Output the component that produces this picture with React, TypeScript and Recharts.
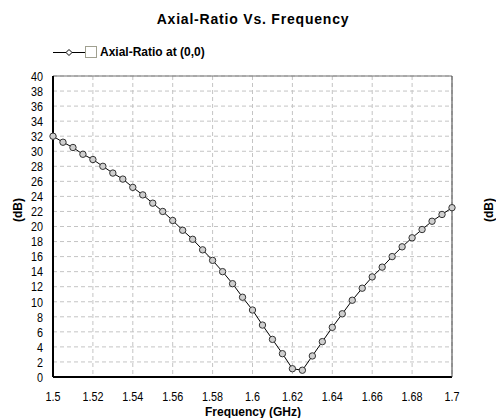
import { LineChart, Line, XAxis, YAxis, CartesianGrid, ReferenceLine } from "recharts"

const freq = [
  1.5, 1.505, 1.51, 1.515, 1.52, 1.525, 1.53, 1.535, 1.54, 1.545,
  1.55, 1.555, 1.56, 1.565, 1.57, 1.575, 1.58, 1.585, 1.59, 1.595,
  1.6, 1.605, 1.61, 1.615, 1.62, 1.625, 1.63, 1.635, 1.64, 1.645,
  1.65, 1.655, 1.66, 1.665, 1.67, 1.675, 1.68, 1.685, 1.69, 1.695, 1.7,
]

const axialRatio = [
  32.0, 31.2, 30.5, 29.6, 28.9, 28.0, 27.1, 26.3, 25.2, 24.2,
  23.1, 22.0, 20.8, 19.5, 18.3, 16.9, 15.5, 14.0, 12.4, 10.6,
  8.9, 6.9, 5.0, 3.1, 1.1, 0.9, 2.8, 4.7, 6.6, 8.4,
  10.2, 11.8, 13.3, 14.6, 16.0, 17.3, 18.5, 19.6, 20.7, 21.6, 22.5,
]

const xTicks = [1.5, 1.52, 1.54, 1.56, 1.58, 1.6, 1.62, 1.64, 1.66, 1.68, 1.7]
const yTicks = [0, 2, 4, 6, 8, 10, 12, 14, 16, 18, 20, 22, 24, 26, 28, 30, 32, 34, 36, 38, 40]

const data = freq.map((f, i) => ({ f, ar: axialRatio[i] }))

const sans = "'Liberation Sans', Arial, sans-serif"

// narrow-looking tick text (no condensed font installed, so squeeze it)
function NarrowTick(props: any) {
  const { x, y, payload, anchor, dy } = props
  return (
    <text
      transform={`translate(${x},${y}) scale(0.8,1)`}
      textAnchor={anchor}
      dy={dy}
      fontSize={13.5}
      fontFamily={sans}
      fill="#000"
    >
      {payload.value}
    </text>
  )
}

export default function App() {
  return (
    <div style={{ position: "absolute", left: 0, top: 0, width: 496, height: 418, background: "#fff" }}>
      <LineChart width={496} height={418} data={data} margin={{ top: 76, right: 4, left: 13, bottom: 11 }}>
        <CartesianGrid yAxisId="l" stroke="#c4c4c4" strokeDasharray="4 3" />
        <XAxis
          dataKey="f"
          type="number"
          domain={[1.5, 1.7]}
          ticks={xTicks}
          interval={0}
          height={30}
          tickLine={false}
          tickSize={6}
          tickMargin={8}
          tick={(p: any) => <NarrowTick {...p} anchor="middle" dy="0.71em" />}
          axisLine={{ stroke: "#000", strokeWidth: 2 }}
        />
        <YAxis
          yAxisId="l"
          domain={[0, 40]}
          ticks={yTicks}
          interval={0}
          width={40}
          tickLine={false}
          tickSize={6}
          tickMargin={4}
          tick={(p: any) => <NarrowTick {...p} anchor="end" dy="0.355em" />}
          axisLine={{ stroke: "#000", strokeWidth: 2 }}
        />
        <YAxis
          yAxisId="r"
          orientation="right"
          domain={[0, 40]}
          ticks={yTicks}
          interval={0}
          width={40}
          tickLine={false}
          tickSize={6}
          tickMargin={4}
          tick={(p: any) => <NarrowTick {...p} anchor="start" dy="0.355em" />}
          axisLine={{ stroke: "#404040", strokeWidth: 1 }}
        />
        <ReferenceLine yAxisId="l" y={40} stroke="#707070" strokeWidth={1} />
        <Line
          yAxisId="l"
          type="linear"
          dataKey="ar"
          stroke="#000"
          strokeWidth={1}
          dot={{ r: 3.2, fill: "#cfcfcf", stroke: "#333", strokeWidth: 1 }}
          isAnimationActive={false}
        />
      </LineChart>

      <div style={{ position: "absolute", left: 0, top: 11, width: 506, textAlign: "center", fontFamily: sans, fontWeight: "bold", fontSize: 14, letterSpacing: 0.8 }}>
        Axial-Ratio Vs. Frequency
      </div>

      <div style={{ position: "absolute", left: 53, top: 44, height: 16, display: "flex", alignItems: "center" }}>
        <svg width={32} height={16}>
          <line x1={0} y1={8.5} x2={32} y2={8.5} stroke="#000" strokeWidth={1} />
          <path d="M16 5.5 L19 8.5 L16 11.5 L13 8.5 Z" fill="#fff" stroke="#000" strokeWidth={1} />
        </svg>
        <div style={{ width: 10, height: 10, border: "1px solid #a0a090", background: "#fff", marginRight: 3 }} />
        <span style={{ fontFamily: sans, fontWeight: "bold", fontSize: 12 }}>Axial-Ratio at (0,0)</span>
      </div>

      <div style={{ position: "absolute", left: 0, top: 405, width: 506, textAlign: "center", fontFamily: sans, fontWeight: "bold", fontSize: 12 }}>
        Frequency (GHz)
      </div>

      <div style={{ position: "absolute", left: 18, top: 210, transform: "translate(-50%, -50%) rotate(-90deg)", fontFamily: sans, fontWeight: "bold", fontSize: 12, whiteSpace: "nowrap" }}>
        (dB)
      </div>
      <div style={{ position: "absolute", left: 489, top: 210, transform: "translate(-50%, -50%) rotate(-90deg)", fontFamily: sans, fontWeight: "bold", fontSize: 12, whiteSpace: "nowrap" }}>
        (dB)
      </div>
    </div>
  )
}
